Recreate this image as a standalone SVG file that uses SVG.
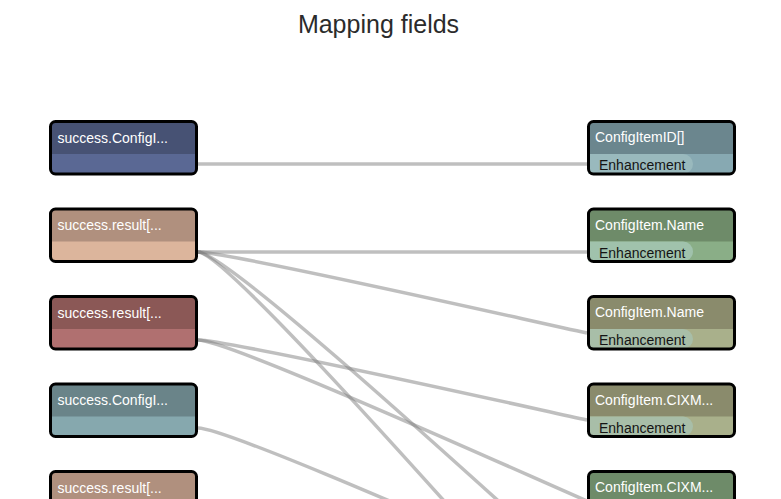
<svg xmlns="http://www.w3.org/2000/svg" width="781" height="499" viewBox="0 0 781 499">
<style>
.title{font-family:"Liberation Sans",Arial,sans-serif;font-size:25px;fill:#2b2b2b}
.lbl{font-family:"Liberation Sans",Arial,sans-serif;font-size:14px;fill:#ffffff}
.pilltxt{font-family:"Liberation Sans",Arial,sans-serif;font-size:14px;fill:#141414}
.frame{fill:none;stroke:#000;stroke-width:3}
.link{fill:none;stroke:#808080;stroke-opacity:0.5;stroke-width:3.5}
</style>
<rect width="781" height="499" fill="#ffffff"/>
<text class="title" x="378.5" y="33" text-anchor="middle">Mapping fields</text>

<g id="connectors">
<path class="link" d="M198,164 L587,164"/>
<path class="link" d="M198,252 L587,252"/>
<path class="link" d="M198,252 C228,252 500,314 587,333"/>
<path class="link" d="M198,252 C228,252 500,565 587,660"/>
<path class="link" d="M198,252 C228,252 500,503 587,581"/>
<path class="link" d="M198,340 C228,340 500,401 587,420"/>
<path class="link" d="M198,340 C228,340 500,463 587,501"/>
<path class="link" d="M198,428 C228,428 500,549 587,586"/>
</g>

<g id="src1">
<rect x="50.5" y="121.5" width="146" height="52.5" rx="5" fill="#5a6894"/>
<path d="M50.5,154 V126.5 a5,5 0 0 1 5,-5 H191.5 a5,5 0 0 1 5,5 V154 Z" fill="#475274"/>
<rect class="frame" x="50.5" y="121.5" width="146" height="52.5" rx="5"/>
<text class="lbl" x="57.5" y="142.5">success.ConfigI...</text>
</g>
<g id="src2">
<rect x="50.5" y="209" width="146" height="52.5" rx="5" fill="#dcb59c"/>
<path d="M50.5,241.5 V214 a5,5 0 0 1 5,-5 H191.5 a5,5 0 0 1 5,5 V241.5 Z" fill="#b0907e"/>
<rect class="frame" x="50.5" y="209" width="146" height="52.5" rx="5"/>
<text class="lbl" x="57.5" y="230">success.result[...</text>
</g>
<g id="src3">
<rect x="50.5" y="296.5" width="146" height="52.5" rx="5" fill="#b07070"/>
<path d="M50.5,329 V301.5 a5,5 0 0 1 5,-5 H191.5 a5,5 0 0 1 5,5 V329 Z" fill="#8b5856"/>
<rect class="frame" x="50.5" y="296.5" width="146" height="52.5" rx="5"/>
<text class="lbl" x="57.5" y="317.5">success.result[...</text>
</g>
<g id="src4">
<rect x="50.5" y="384" width="146" height="52.5" rx="5" fill="#86a8ae"/>
<path d="M50.5,416.5 V389 a5,5 0 0 1 5,-5 H191.5 a5,5 0 0 1 5,5 V416.5 Z" fill="#6a8489"/>
<rect class="frame" x="50.5" y="384" width="146" height="52.5" rx="5"/>
<text class="lbl" x="57.5" y="405">success.ConfigI...</text>
</g>
<g id="src5">
<rect x="50.5" y="471.5" width="146" height="52.5" rx="5" fill="#dcb59c"/>
<path d="M50.5,504 V476.5 a5,5 0 0 1 5,-5 H191.5 a5,5 0 0 1 5,5 V504 Z" fill="#b0907e"/>
<rect class="frame" x="50.5" y="471.5" width="146" height="52.5" rx="5"/>
<text class="lbl" x="57.5" y="492.5">success.result[...</text>
</g>

<g id="dst1">
<rect x="588.5" y="121.5" width="146" height="52.5" rx="5" fill="#87a9b2"/>
<path d="M588.5,154 V126.5 a5,5 0 0 1 5,-5 H729.5 a5,5 0 0 1 5,5 V154 Z" fill="#6b868e"/>
<path d="M588.5,154 H683 a10,10 0 0 1 0,20 H588.5 Z" fill="#99b9bd"/>
<rect class="frame" x="588.5" y="121.5" width="146" height="52.5" rx="5"/>
<text class="lbl" x="595" y="142">ConfigItemID[]</text>
<text class="pilltxt" x="599" y="170">Enhancement</text>
</g>
<g id="dst2">
<rect x="588.5" y="209" width="146" height="52.5" rx="5" fill="#8aae87"/>
<path d="M588.5,241.5 V214 a5,5 0 0 1 5,-5 H729.5 a5,5 0 0 1 5,5 V241.5 Z" fill="#6e8b69"/>
<path d="M588.5,241.5 H683 a10,10 0 0 1 0,20 H588.5 Z" fill="#a0c2ac"/>
<rect class="frame" x="588.5" y="209" width="146" height="52.5" rx="5"/>
<text class="lbl" x="595" y="229.5">ConfigItem.Name</text>
<text class="pilltxt" x="599" y="257.5">Enhancement</text>
</g>
<g id="dst3">
<rect x="588.5" y="296.5" width="146" height="52.5" rx="5" fill="#a9b08b"/>
<path d="M588.5,329 V301.5 a5,5 0 0 1 5,-5 H729.5 a5,5 0 0 1 5,5 V329 Z" fill="#8a8b6c"/>
<path d="M588.5,329 H683 a10,10 0 0 1 0,20 H588.5 Z" fill="#a8bea8"/>
<rect class="frame" x="588.5" y="296.5" width="146" height="52.5" rx="5"/>
<text class="lbl" x="595" y="317">ConfigItem.Name</text>
<text class="pilltxt" x="599" y="345">Enhancement</text>
</g>
<g id="dst4">
<rect x="588.5" y="384" width="146" height="52.5" rx="5" fill="#a9b08b"/>
<path d="M588.5,416.5 V389 a5,5 0 0 1 5,-5 H729.5 a5,5 0 0 1 5,5 V416.5 Z" fill="#8a8b6c"/>
<path d="M588.5,416.5 H683 a10,10 0 0 1 0,20 H588.5 Z" fill="#a8bea8"/>
<rect class="frame" x="588.5" y="384" width="146" height="52.5" rx="5"/>
<text class="lbl" x="595" y="404.5">ConfigItem.CIXM...</text>
<text class="pilltxt" x="599" y="432.5">Enhancement</text>
</g>
<g id="dst5">
<rect x="588.5" y="471.5" width="146" height="52.5" rx="5" fill="#8aae87"/>
<path d="M588.5,504 V476.5 a5,5 0 0 1 5,-5 H729.5 a5,5 0 0 1 5,5 V504 Z" fill="#6e8b69"/>
<rect class="frame" x="588.5" y="471.5" width="146" height="52.5" rx="5"/>
<text class="lbl" x="595" y="492">ConfigItem.CIXM...</text>
</g>
</svg>
